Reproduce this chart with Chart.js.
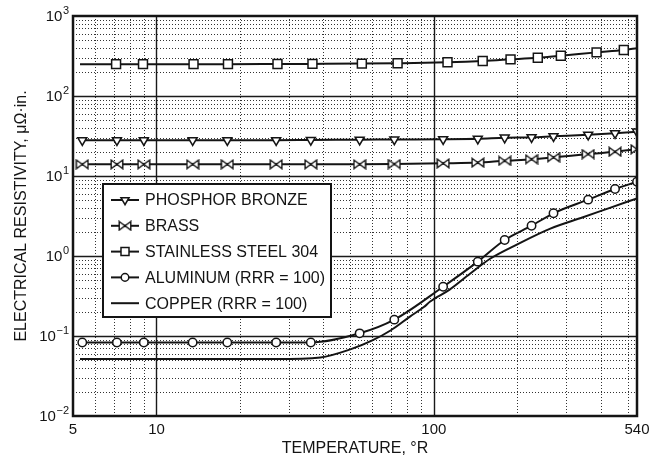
<!DOCTYPE html>
<html>
<head>
<meta charset="utf-8">
<script src="https://cdn.jsdelivr.net/npm/chart.js@4.4.1/dist/chart.umd.min.js"></script>
<style>
  html, body { margin: 0; padding: 0; background: #fff; }
</style>
</head>
<body>
<canvas id="chart" width="663" height="459"></canvas>
<script>
// temperature, °R
const tempsMain = [5.4, 7.2, 9, 13.5, 18, 27, 36, 54, 72, 108, 144, 180, 225, 270, 360, 450, 540];
const tempsSteel = [5.3, 7.15, 8.94, 13.6, 18.1, 27.3, 36.5, 55, 74, 112, 150, 189, 237, 287, 386, 484, 540];
const tempsCopper = [5.3, 27, 39, 50, 60, 70, 82, 92, 97, 114, 135, 160, 200, 263, 345, 431, 540];

// resistivity, µΩ·in.
const phosphorBronze = [28, 28, 28, 28, 28, 28, 28.2, 28.4, 28.6, 28.8, 29.2, 30.1, 30.5, 31.4, 32.8, 34.2, 35.8];
const brass = [14, 14, 14, 14, 14, 14, 14, 14, 14.1, 14.4, 14.7, 15.5, 16.2, 17.1, 18.8, 20.1, 21.6];
const steel304 = [250, 250, 250, 250, 250, 251, 252, 254, 257, 264, 274, 287, 301, 319, 351, 376, 395];
const aluminum = [0.083, 0.083, 0.083, 0.083, 0.083, 0.083, 0.083, 0.108, 0.16, 0.413, 0.85, 1.585, 2.39, 3.42, 5.06, 6.87, 8.48];
const copper = [0.0516, 0.0516, 0.054, 0.068, 0.088, 0.118, 0.175, 0.23, 0.27, 0.38, 0.6, 0.93, 1.4, 2.2, 3.05, 4.0, 5.25];

// axis ticks
const xTickLabels = [5, 10, 100, 540];
const xMajorGrid = [10, 100];
const xMinorGrid = [6, 7, 8, 9, 20, 30, 40, 50, 60, 70, 80, 90, 200, 300, 400, 500];
const yMajorTicks = [0.01, 0.1, 1, 10, 100, 1000];
const yTickExponents = ['\u22122', '\u22121', '0', '1', '2', '3'];
const yMinorSteps = [2, 3, 4, 5, 6, 7, 8, 9];

const FONT = '"Liberation Sans", Arial, Helvetica, sans-serif';
const INK = '#141414';
Chart.defaults.font.family = FONT;

// bowtie marker for brass  |><|
const bowtie = document.createElement('canvas');
bowtie.width = 14; bowtie.height = 11;
(function () {
  const c = bowtie.getContext('2d');
  c.lineWidth = 1.4; c.strokeStyle = INK; c.fillStyle = '#fff'; c.lineJoin = 'miter';
  c.beginPath();
  c.moveTo(1.2, 1.2); c.lineTo(7, 5.5); c.lineTo(1.2, 9.8); c.closePath();
  c.moveTo(12.8, 1.2); c.lineTo(7, 5.5); c.lineTo(12.8, 9.8); c.closePath();
  c.fill(); c.stroke();
})();

function pts(xs, ys) { return xs.map((t, i) => ({ x: t, y: ys[i] })); }

const steelRadius = tempsSteel.map((t, i) => (i === 0 || i === tempsSteel.length - 1) ? 0 : 6.3);

const datasets = [
  { label: 'PHOSPHOR BRONZE', data: pts(tempsMain, phosphorBronze), pointStyle: 'triangle', pointRotation: 180, pointRadius: 5.2 },
  { label: 'BRASS', data: pts(tempsMain, brass), pointStyle: bowtie, pointRadius: 6 },
  { label: 'STAINLESS STEEL 304', data: pts(tempsSteel, steel304), pointStyle: 'rect', pointRadius: steelRadius },
  { label: 'ALUMINUM (RRR = 100)', data: pts(tempsMain, aluminum), pointStyle: 'circle', pointRadius: 4.2 },
  { label: 'COPPER (RRR = 100)', data: pts(tempsCopper, copper), pointStyle: 'circle', pointRadius: 0 }
].map(d => Object.assign({
  borderColor: INK, borderWidth: 2, backgroundColor: '#fff',
  pointBackgroundColor: '#fff', pointBorderColor: INK, pointBorderWidth: 1.5,
  cubicInterpolationMode: 'monotone', fill: false
}, d));

const paperPlugin = {
  id: 'paper',
  beforeDatasetsDraw(chart) {
    const { ctx, chartArea: a, scales: { x, y } } = chart;
    const vline = v => { const p = Math.round(x.getPixelForValue(v)) + 0.5; ctx.beginPath(); ctx.moveTo(p, a.top); ctx.lineTo(p, a.bottom); ctx.stroke(); };
    const hline = v => { const p = Math.round(y.getPixelForValue(v)) + 0.5; ctx.beginPath(); ctx.moveTo(a.left, p); ctx.lineTo(a.right, p); ctx.stroke(); };
    ctx.save();
    ctx.beginPath(); ctx.rect(a.left, a.top, a.right - a.left, a.bottom - a.top); ctx.clip();
    ctx.strokeStyle = '#333'; ctx.lineWidth = 1; ctx.setLineDash([1, 2]);
    xMinorGrid.forEach(vline);
    yMajorTicks.slice(0, -1).forEach(d => yMinorSteps.forEach(s => hline(d * s)));
    ctx.setLineDash([]);
    ctx.strokeStyle = '#1a1a1a'; ctx.lineWidth = 1.4;
    xMajorGrid.forEach(vline);
    yMajorTicks.slice(1, -1).forEach(hline);
    ctx.restore();
  },
  afterDatasetsDraw(chart) {
    const { ctx, chartArea: a, scales: { y } } = chart;
    ctx.save();
    // frame
    ctx.strokeStyle = INK; ctx.lineWidth = 2.5;
    ctx.strokeRect(a.left, a.top, a.right - a.left, a.bottom - a.top);

    // y tick labels with superscript exponents
    ctx.fillStyle = INK; ctx.textAlign = 'right'; ctx.textBaseline = 'middle';
    yMajorTicks.forEach((v, i) => {
      const py = y.getPixelForValue(v);
      const right = a.left - 4;
      ctx.font = '11px ' + FONT;
      const w = ctx.measureText(yTickExponents[i]).width;
      ctx.fillText(yTickExponents[i], right, py - 5.5);
      ctx.font = '15px ' + FONT;
      ctx.fillText('10', right - w - 0.5, py + 0.5);
    });

    // legend
    const bx = 103, by = 184, bw = 228, bh = 133;
    ctx.fillStyle = '#fff'; ctx.fillRect(bx, by, bw, bh);
    ctx.strokeStyle = INK; ctx.lineWidth = 2; ctx.strokeRect(bx, by, bw, bh);
    chart.data.datasets.forEach((ds, i) => {
      const cy = by + 16 + i * 25.8;
      ctx.strokeStyle = INK; ctx.lineWidth = 2;
      ctx.beginPath(); ctx.moveTo(111, cy); ctx.lineTo(139, cy); ctx.stroke();
      const r = Array.isArray(ds.pointRadius) ? 6.3 : ds.pointRadius;
      if (r > 0) {
        if (ds.pointStyle instanceof HTMLCanvasElement) {
          ctx.drawImage(ds.pointStyle, 125 - ds.pointStyle.width / 2, cy - ds.pointStyle.height / 2);
        } else {
          ctx.fillStyle = '#fff'; ctx.strokeStyle = INK; ctx.lineWidth = 1.5;
          Chart.helpers.drawPoint(ctx, { pointStyle: ds.pointStyle, rotation: ds.pointRotation || 0, radius: r * 0.9, borderWidth: 1.5 }, 125, cy);
        }
      }
      ctx.fillStyle = INK; ctx.font = '16px ' + FONT; ctx.textAlign = 'left'; ctx.textBaseline = 'middle';
      ctx.fillText(ds.label, 145, cy + 1);
    });
    ctx.restore();
  }
};

new Chart(document.getElementById('chart'), {
  type: 'line',
  data: { datasets },
  plugins: [paperPlugin],
  options: {
    responsive: false,
    animation: false,
    events: [],
    layout: { padding: { left: 0, top: 16, right: 26, bottom: 0 } },
    plugins: { legend: { display: false }, tooltip: { enabled: false } },
    scales: {
      x: {
        type: 'logarithmic', min: 5, max: 540,
        afterBuildTicks: s => { s.ticks = xTickLabels.map(v => ({ value: v })); },
        afterFit: s => { s.height = 43; },
        grid: { display: false, drawTicks: false },
        border: { display: false },
        ticks: { autoSkip: false, maxRotation: 0, padding: 5, color: INK, font: { size: 15 }, callback: v => String(v) },
        title: { display: true, text: 'TEMPERATURE, °R', color: INK, font: { size: 16 }, padding: { top: 0, bottom: 1 } }
      },
      y: {
        type: 'logarithmic', min: 0.01, max: 1000,
        afterBuildTicks: s => { s.ticks = yMajorTicks.map(v => ({ value: v })); },
        afterFit: s => { s.width = 73; },
        grid: { display: false, drawTicks: false },
        border: { display: false },
        ticks: { display: false },
        title: { display: true, text: 'ELECTRICAL RESISTIVITY, μΩ·in.', color: INK, font: { size: 16 }, padding: { top: 12, bottom: 0 } }
      }
    }
  }
});
</script>
</body>
</html>
